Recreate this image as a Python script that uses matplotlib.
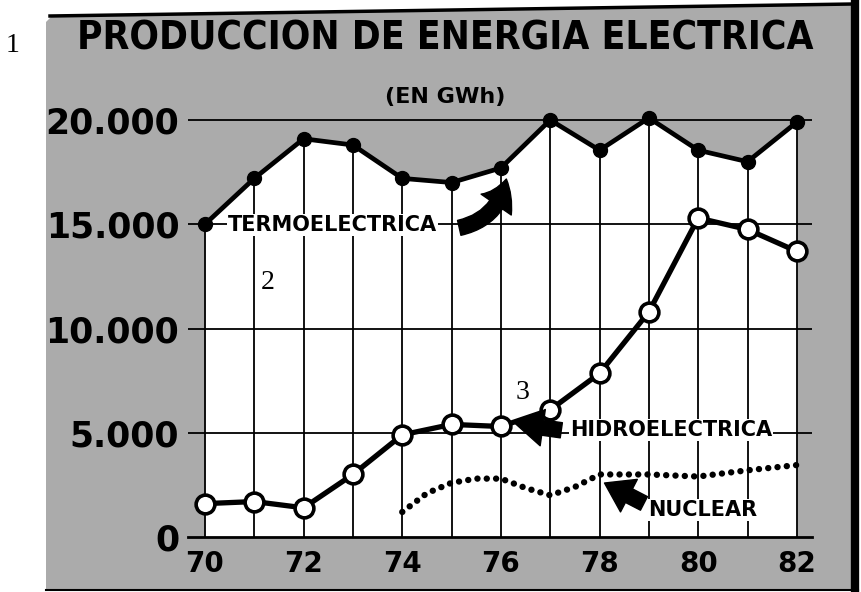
import matplotlib
matplotlib.use("Agg")
import matplotlib.pyplot as plt
from matplotlib import font_manager
from matplotlib.patches import Polygon

# data (GWh)
years = [70, 71, 72, 73, 74, 75, 76, 77, 78, 79, 80, 81, 82]
termo = [15000, 17200, 19100, 18800, 17200, 17000, 17700, 20000, 18550, 20100, 18550, 18000, 19900]
hidro = [1600, 1700, 1400, 3000, 4900, 5400, 5300, 6100, 7850, 10800, 15300, 14750, 13700]
nuc_years = [74, 74.5, 75, 75.5, 76, 76.5, 77, 77.5, 78, 79, 80, 81, 82]
nuclear = [1200, 2100, 2600, 2800, 2800, 2350, 2000, 2400, 3000, 3000, 2900, 3200, 3450]

yticks = [0, 5000, 10000, 15000, 20000]
ytick_labels = ['0', '5.000', '10.000', '15.000', '20.000']
xticks = [70, 72, 74, 76, 78, 80, 82]
xtick_labels = ['70', '72', '74', '76', '78', '80', '82']

gray = '#ababab'
W, H = 861, 592

names = {f.name for f in font_manager.fontManager.ttflist}
serif = 'Liberation Serif' if 'Liberation Serif' in names else 'DejaVu Serif'

fig = plt.figure(figsize=(W / 100, H / 100), dpi=100)
fig.patch.set_facecolor('white')

def fx(px):
    return px / W

def fy(py):
    return 1 - py / H

# gray printed panel
panel = Polygon([(fx(46), fy(589)), (fx(853), fy(589)), (fx(853), fy(4)),
                 (fx(52), fy(16)), (fx(46), fy(22))],
                closed=True, transform=fig.transFigure, facecolor=gray,
                edgecolor='none', zorder=-5)
fig.add_artist(panel)
fig.add_artist(plt.Line2D([fx(50), fx(853)], [fy(16), fy(4)], color='black', lw=2.5,
                          transform=fig.transFigure, zorder=-4))
fig.add_artist(plt.Line2D([fx(855), fx(855)], [fy(2), fy(590)], color='black', lw=6,
                          transform=fig.transFigure, zorder=-4))
fig.add_artist(plt.Line2D([fx(46), fx(858)], [fy(589.5), fy(589.5)], color='black', lw=1.5,
                          transform=fig.transFigure, zorder=-4))

ax = fig.add_axes([0.218, 0.0929, 0.7247, 0.722])
ax.set_zorder(1)
ax.set_facecolor('none')
ax.set_xlim(69.65, 82.3)
ax.set_ylim(0, 20500)

# white area under the thermal line, year grid up to that line
ax.fill_between(years, 0, termo, color='white', zorder=1, lw=0)
ax.vlines(years, 0, termo, color='black', lw=1.3, zorder=2)
for v in yticks[1:]:
    ax.axhline(v, color='black', lw=1.3, zorder=2)

ax.plot(years, termo, color='black', lw=3.4, marker='o', ms=10,
        zorder=4, clip_on=False)
ax.plot(years, hidro, color='black', lw=3.8, marker='o', ms=13.5,
        mfc='white', mec='black', mew=2.6, zorder=5, clip_on=False)
ax.plot(nuc_years, nuclear, color='black', lw=4.6, linestyle=(0, (0.01, 1.45)),
        dash_capstyle='round', zorder=4)

for s in ['left', 'right', 'top']:
    ax.spines[s].set_visible(False)
ax.spines['bottom'].set_linewidth(2)
ax.spines['bottom'].set_zorder(3)

ax.set_yticks(yticks)
ax.set_yticklabels(ytick_labels, fontsize=25, fontweight='bold')
ax.set_xticks(xticks)
ax.set_xticklabels(xtick_labels, fontsize=20, fontweight='bold')
ax.tick_params(axis='y', length=0, pad=6)
ax.tick_params(axis='x', length=0, pad=9)

lab = dict(fontsize=15, fontweight='bold', va='center', ha='left', zorder=6,
           bbox=dict(boxstyle='square,pad=0.05', fc='white', ec='none'))
ax.text(70.47, 14950, 'TERMOELECTRICA', **lab)
ax.text(77.40, 5130, 'HIDROELECTRICA', **lab)
ax.text(78.98, 1300, 'NUCLEAR', **lab)

arrow = dict(arrowstyle='simple,head_length=0.9,head_width=1.2,tail_width=0.5',
             fc='black', ec='black', mutation_scale=22)
ax.annotate('', xy=(76.12, 17300), xytext=(75.1, 14800), zorder=6,
            arrowprops=dict(connectionstyle='arc3,rad=0.35', **arrow))
ax.annotate('', xy=(76.24, 5450), xytext=(77.28, 5100), zorder=6,
            arrowprops=dict(connectionstyle='arc3,rad=0', **arrow))
ax.annotate('', xy=(78.05, 2650), xytext=(78.95, 1550), zorder=6,
            arrowprops=dict(connectionstyle='arc3,rad=0', **arrow))

title = fig.text(fx(445), fy(38), 'PRODUCCION DE ENERGIA ELECTRICA',
                 fontsize=33, fontweight='bold', fontstretch='condensed',
                 ha='center', va='center')
# shrink the title until it spans the same width as in the print
r = fig.canvas.get_renderer()
w = title.get_window_extent(r).width
title.set_fontsize(33 * 735 / w)

fig.text(fx(445), fy(97), '(EN GWh)', fontsize=16, fontweight='bold',
         ha='center', va='center')

fig.text(fx(13), fy(46), '1', family=serif, fontsize=20, ha='center', va='center')
ax.text(71.28, 12200, '2', family=serif, fontsize=20, ha='center', va='center')
ax.text(76.43, 6950, '3', family=serif, fontsize=20, ha='center', va='center')

fig.savefig('out.png', dpi=100)
